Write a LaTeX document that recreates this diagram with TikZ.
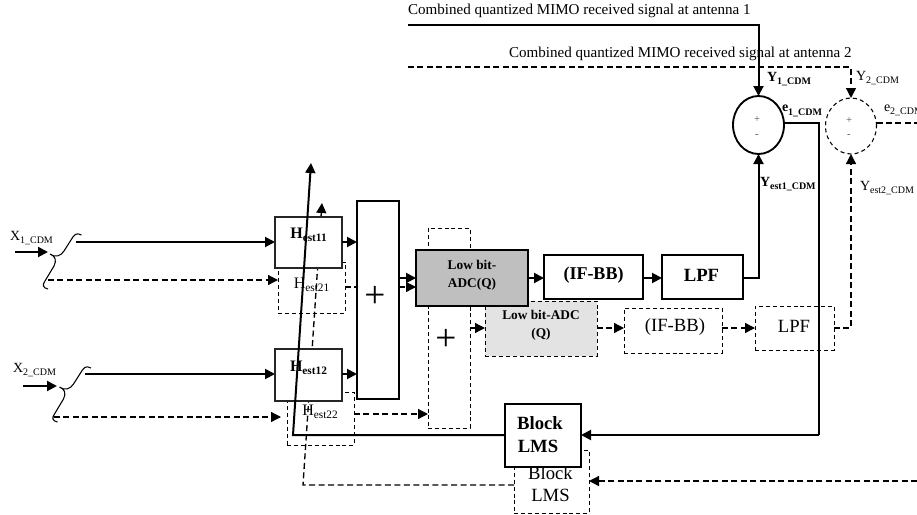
\documentclass[tikz,border=0pt]{standalone}
\usepackage{fontspec}
\setmainfont{Liberation Serif}
\usetikzlibrary{arrows.meta,shapes.geometric}
\newcommand\fs[1]{\fontsize{#1}{#1}\selectfont}
\newcommand\lab[2]{\fs{10.5}#1\raisebox{-2.4pt}{\fs{7.5}#2}}
\newcommand\hlab[2]{\fs{12}#1\raisebox{-2.4pt}{\fs{8.5}#2}}
% style, name, x1, x2, y1, y2, text, dx, dy
\newcommand\bx[9]{\node[#1,minimum width={(#4-#3)*0.75pt},minimum height={(#6-#5)*0.75pt},
  label={[xshift={(#8)*0.75pt},yshift={-(#9)*0.75pt},align=center]center:{#7}}]
  (#2) at ({(#3+#4)/2},{(#5+#6)/2}) {};}
\newcommand\brc{ (81.5,235) .. controls (76,232) and (74,235) .. (71,240)
  -- (64,251) .. controls (61,256) and (55,258) .. (50,254)
  (50,254) .. controls (55,256) and (57,260) .. (54,266)
  -- (45,281) .. controls (42,285) and (43,288) .. (48,289) }
\tikzset{x=0.75pt,y=-0.75pt,
  every node/.style={outer sep=0pt,inner sep=0pt},
  tipa/.style={-{Triangle[length=7.5pt,width=7.5pt]}},
  solidline/.style={line width=1.5pt},
  dashline/.style={line width=1pt,dash pattern=on 4.5pt off 2.6pt},
  thinbox/.style={draw=black!85,line width=0.9pt,fill=white,rectangle},
  medbox/.style={draw=black,line width=1.3pt,fill=white,rectangle},
  dashbox/.style={draw=black,line width=0.7pt,dash pattern=on 3pt off 2.2pt,rectangle},
  txt/.style={anchor=west,text=black},
}
\begin{document}
\begin{tikzpicture}
\useasboundingbox (0,0) rectangle (917,514);
% texts on top lines
\node[txt] (sigAtext) at (408,11) {\fs{11.3}Combined quantized MIMO received signal at antenna 1};
\node[txt] (sigBtext) at (509,54) {\fs{11.3}Combined quantized MIMO received signal at antenna 2};
\coordinate (sigA) at (408,25);
\coordinate (sigB) at (408,67);
\coordinate (x1a) at (76,242);
\coordinate (x1b) at (48,280);
\coordinate (x1s) at (15,252);
\coordinate (x1e) at (48,252);
\coordinate (x2a) at (85,374);
\coordinate (x2b) at (54,417);
\coordinate (x2s) at (23,386);
\coordinate (x2e) at (57,386);
\coordinate (rb) at (917,481);
\coordinate (re) at (917,123);
\coordinate (j1) at (819,435);
\coordinate (d1) at (303,485);
\coordinate (d2) at (322,203);
\coordinate (d3) at (321,217);
\coordinate (s1) at (293,435);
\coordinate (s2) at (311,163);
% dashed boxes
\bx{dashbox}{h21}{278}{345}{262}{313}{\hlab{H}{est21}}{0}{-3}
\bx{dashbox}{h22}{287}{354}{392}{445}{\hlab{H}{est22}}{-0.5}{-6.5}
\bx{dashbox}{plusb}{428}{470}{228}{428}{\fs{28}+}{-3}{12}
\bx{dashbox,fill=black!11}{adcb}{485}{597}{301}{356}{\fs{10}\bfseries Low bit-ADC\\[1.5pt]\fs{10}\bfseries (Q)}{0}{-3}
\bx{dashbox}{ifb}{624}{722}{308}{353}{\fs{14}(IF-BB)}{2}{-3}
\bx{dashbox}{lpfb}{755}{834}{306}{350}{\fs{14}LPF}{-0.5}{-2}
\bx{dashbox}{blockb}{514}{589}{450}{513}{\fs{14}Block\\[5pt]\fs{14}LMS}{-1}{2.5}
\node[draw,ellipse,dash pattern=on 3pt off 2.4pt,line width=0.8pt,minimum width={51*0.75pt},minimum height={56*0.75pt}] (c2) at (851,126) {};
% dashed connectors
\draw[dashline,tipa] (sigB) -| (c2.north);
\draw[dashline,tipa] (x1b) -- (h21.west |- x1b);
\draw[dashline,tipa] (x2b) -- (281,417);
\draw[dashline] (h21.east |- 0,287) -- (357,287);
\draw[dashline,tipa] (h22.east |- 0,414) -- (plusb.west |- 0,414);
\draw[dashline,tipa] (plusb.east |- 0,328) -- (adcb.west |- 0,328);
\draw[dashline,tipa] (adcb.east |- 0,328) -- (ifb.west |- 0,328);
\draw[dashline,tipa] (ifb.east |- 0,328) -- (lpfb.west |- 0,328);
\draw[dashline,tipa] (lpfb.east |- 0,328) -| (c2.south);
\draw[dashline] (c2.east |- 0,123) -- (re);
\draw[dashline,tipa] (rb) -- (blockb.east |- rb);
\draw[dashline] (blockb.west |- d1) -- (d1) -- (d3);
\draw[line width=1pt,tipa] (d3) -- (d2);
\draw[dashline,tipa] (399,287) -- (416,287);
% solid boxes
\bx{thinbox}{h11}{275}{342}{217}{268}{\bfseries\hlab{H}{est11}}{0}{-7.5}
\bx{thinbox}{h12}{275}{342}{349}{401}{\bfseries\hlab{H}{est12}}{0}{-7}
\bx{medbox}{plusa}{357}{399}{201}{399}{\fs{28}+}{-3}{-3}
\bx{medbox,fill=black!25,line width=1.6pt}{adca}{416}{528}{250}{306}{\fs{10}\bfseries Low bit-\\[1.5pt]\fs{10}\bfseries ADC(Q)}{0}{-3}
\bx{medbox}{ifa}{544}{643}{255}{299}{\fs{13.5}\bfseries (IF-BB)}{0}{-2}
\bx{medbox}{lpfa}{662}{743}{255}{299}{\fs{14}\bfseries LPF}{-1}{-2}
\bx{medbox}{blocka}{505}{581}{404}{467}{\fs{14}\bfseries\hspace*{3pt}Block\\[5pt]\fs{14}\bfseries LMS}{-5}{-1}
\node[draw,ellipse,line width=1.4pt,minimum width={51*0.75pt},minimum height={58*0.75pt}] (c1) at (758.5,125) {};
% solid connectors
\draw[solidline,tipa] (sigA) -| (c1.north);
\draw[solidline,tipa] (x1a) -- (h11.west |- x1a);
\draw[solidline,tipa] (x2a) -- (h12.west |- x2a);
\draw[solidline,tipa] (x1s) -- (x1e);
\draw[solidline,tipa] (x2s) -- (x2e);
\draw[solidline,tipa] (h11.east |- 0,242) -- (plusa.west |- 0,242);
\draw[solidline,tipa] (h12.east |- 0,374) -- (plusa.west |- 0,374);
\draw[solidline,tipa] (plusa.east |- 0,278) -- (adca.west |- 0,278);
\draw[solidline,tipa] (adca.east |- 0,278) -- (ifa.west |- 0,278);
\draw[solidline,tipa] (ifa.east |- 0,278) -- (lpfa.west |- 0,278);
\draw[solidline,tipa] (lpfa.east |- 0,278) -| (c1.south);
\draw[solidline] (c1.5) -| (j1);
\draw[solidline,tipa] (j1) -- (blocka.east |- j1);
\draw[solidline,tipa] (blocka.west |- s1) -- (s1) -- (s2);
% braces
\draw[line width=0.8pt] \brc;
\draw[line width=0.8pt,shift={(9.5,133)}] \brc;
% labels
\node[txt] (x1lab) at (10,238) {\lab{X}{1\_CDM}};
\node[txt] (x2lab) at (13,370) {\lab{X}{2\_CDM}};
\node[txt,font=\bfseries] (y1lab) at (767,79) {\lab{Y}{1\_CDM}};
\node[txt,font=\bfseries] (e1lab) at (782,111) {\lab{e}{1\_CDM}};
\node[txt,font=\bfseries] (yest1lab) at (760,184) {\lab{Y}{est1\_CDM}};
\node[txt] (y2lab) at (856,78) {\lab{Y}{2\_CDM}};
\node[txt] (e2lab) at (884,110) {\lab{e}{2\_CDM}};
\node[txt] (yest2lab) at (860,188) {\lab{Y}{est2\_CDM}};
\node[text=black!70] (c1p) at (757,119) {\fs{8}+};
\node[text=black!70] (c1m) at (757,136) {\fs{8}-};
\node[text=black!70] (c2p) at (849,120) {\fs{8}+};
\node[text=black!70] (c2m) at (849,136) {\fs{8}-};
\end{tikzpicture}
\end{document}
